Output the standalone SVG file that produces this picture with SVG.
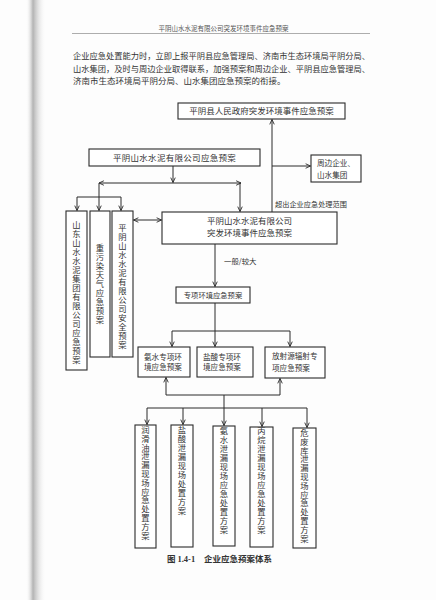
<svg xmlns="http://www.w3.org/2000/svg" width="436" height="600" viewBox="0 0 436 600">
<defs>
<linearGradient id="shadow" x1="0" y1="0" x2="1" y2="0">
<stop offset="0" stop-color="#ffffff" stop-opacity="0"/>
<stop offset="0.35" stop-color="#9a9a9a" stop-opacity="0.75"/>
<stop offset="0.6" stop-color="#c8c8c8" stop-opacity="0.55"/>
<stop offset="1" stop-color="#ffffff" stop-opacity="0"/>
</linearGradient>
<marker id="a" viewBox="0 0 8 8" refX="7.5" refY="4" markerWidth="6" markerHeight="6" markerUnits="userSpaceOnUse" orient="auto-start-reverse">
<path d="M1,1 L7.5,4 L1,7" fill="none" stroke="#2b2b2b" stroke-width="1.2"/>
</marker>
<style>
text{font-family:"Noto Sans CJK SC","Noto Sans",sans-serif;fill:#333}
.b{fill:#fff;stroke:#2b2b2b;stroke-width:1.1}
.c{fill:none;stroke:#2b2b2b;stroke-width:1}
.t{font-size:8.5px}
.m{text-anchor:middle}
.v{font-size:8.3px;text-anchor:middle}
.s{font-size:7.6px}
</style>
</defs>
<rect width="436" height="600" fill="#fdfdfd"/>
<rect x="26" y="0" width="20" height="600" fill="url(#shadow)"/>

<g id="header">
<text x="223.5" y="31" font-size="6.5" text-anchor="middle" style="fill:#555">平阴山水水泥有限公司突发环境事件应急预案</text>
<line x1="72" y1="33.5" x2="370" y2="33.5" stroke="#777" stroke-width="0.6"/>
</g>

<g id="paragraph">
<text x="73" y="59" class="t" textLength="297" lengthAdjust="spacingAndGlyphs">企业应急处置能力时，立即上报平阴县应急管理局、济南市生态环境局平阴分局、</text>
<text x="73" y="71.5" class="t" textLength="297" lengthAdjust="spacingAndGlyphs">山水集团，及时与周边企业取得联系，加强预案和周边企业、平阴县应急管理局、</text>
<text x="73" y="84" class="t">济南市生态环境局平阴分局、山水集团应急预案的衔接。</text>
</g>

<g id="connectors">
<path class="c" d="M272,212 V119.5" marker-end="url(#a)"/>
<path class="c" d="M272,166 H310.5" marker-end="url(#a)"/>
<path class="c" d="M173,166 V182.5" marker-end="url(#a)"/>
<path class="c" d="M99,183 H241" marker-start="url(#a)" marker-end="url(#a)"/>
<path class="c" d="M240,183 V211.5" marker-end="url(#a)"/>
<path class="c" d="M99,183 V210.5" marker-end="url(#a)"/>
<path class="c" d="M77,197 H121"/>
<path class="c" d="M77,197 V210.5" marker-end="url(#a)"/>
<path class="c" d="M121,197 V210.5" marker-end="url(#a)"/>
<path class="c" d="M133.5,220 H161.5" marker-start="url(#a)" marker-end="url(#a)"/>
<path class="c" d="M215,244 V286.5" marker-end="url(#a)"/>
<path class="c" d="M215,303 V346.5" marker-end="url(#a)"/>
<path class="c" d="M172,331 H290"/>
<path class="c" d="M172,331 V346.5" marker-end="url(#a)"/>
<path class="c" d="M290,331 V346.5" marker-end="url(#a)"/>
<path class="c" d="M166,395 V377.5" marker-end="url(#a)"/>
<path class="c" d="M280,395 V378.5" marker-end="url(#a)"/>
<path class="c" d="M166,395 H280"/>
<path class="c" d="M224,395 V408"/>
<path class="c" d="M147,408 H307"/>
<path class="c" d="M147,408 V424.5" marker-end="url(#a)"/>
<path class="c" d="M183,408 V424.5" marker-end="url(#a)"/>
<path class="c" d="M224,408 V425.5" marker-end="url(#a)"/>
<path class="c" d="M262,408 V426.5" marker-end="url(#a)"/>
<path class="c" d="M307,408 V427.5" marker-end="url(#a)"/>
</g>

<g id="gov">
<rect class="b" x="178" y="103" width="167" height="16"/>
<text x="261.5" y="114.3" class="t m">平阴县人民政府突发环境事件应急预案</text>
</g>

<g id="company">
<rect class="b" x="89" y="149" width="171" height="17"/>
<text x="174.5" y="160.8" class="t m" letter-spacing="0.3">平阴山水水泥有限公司应急预案</text>
</g>

<g id="neighbors">
<rect class="b" x="311" y="155" width="50" height="27"/>
<text x="317" y="166" class="s">周边企业、</text>
<text x="317" y="178" class="s">山水集团</text>
</g>

<g id="main">
<rect class="b" x="162" y="212" width="175" height="32"/>
<text x="249.5" y="224" class="t m">平阴山水水泥有限公司</text>
<text x="249.5" y="235.5" class="t m">突发环境事件应急预案</text>
</g>

<g id="labels">
<text x="275" y="207" font-size="7.2">超出企业应急处理范围</text>
<text x="224" y="264" font-size="7.4">一般/较大</text>
</g>

<g id="left1">
<rect class="b" x="66" y="211" width="21" height="159"/>
<text class="v"><tspan x="76.5" y="228">山</tspan><tspan x="76.5" y="237">东</tspan><tspan x="76.5" y="246">山</tspan><tspan x="76.5" y="255">水</tspan><tspan x="76.5" y="264">水</tspan><tspan x="76.5" y="273">泥</tspan><tspan x="76.5" y="282">集</tspan><tspan x="76.5" y="291">团</tspan><tspan x="76.5" y="300">有</tspan><tspan x="76.5" y="309">限</tspan><tspan x="76.5" y="318">公</tspan><tspan x="76.5" y="327">司</tspan><tspan x="76.5" y="336">应</tspan><tspan x="76.5" y="345">急</tspan><tspan x="76.5" y="354">预</tspan><tspan x="76.5" y="363">案</tspan></text>
</g>

<g id="left2">
<rect class="b" x="90" y="211" width="20" height="146"/>
<text class="v"><tspan x="100" y="251">重</tspan><tspan x="100" y="260">污</tspan><tspan x="100" y="269">染</tspan><tspan x="100" y="278">天</tspan><tspan x="100" y="287">气</tspan><tspan x="100" y="296">应</tspan><tspan x="100" y="305">急</tspan><tspan x="100" y="314">预</tspan><tspan x="100" y="323">案</tspan></text>
</g>

<g id="left3">
<rect class="b" x="112" y="211" width="21" height="146"/>
<text class="v"><tspan x="122.5" y="231">平</tspan><tspan x="122.5" y="240">阴</tspan><tspan x="122.5" y="249">山</tspan><tspan x="122.5" y="258">水</tspan><tspan x="122.5" y="267">水</tspan><tspan x="122.5" y="276">泥</tspan><tspan x="122.5" y="285">有</tspan><tspan x="122.5" y="294">限</tspan><tspan x="122.5" y="303">公</tspan><tspan x="122.5" y="312">司</tspan><tspan x="122.5" y="321">安</tspan><tspan x="122.5" y="330">全</tspan><tspan x="122.5" y="339">预</tspan><tspan x="122.5" y="348">案</tspan></text>
</g>

<g id="special">
<rect class="b" x="176" y="287" width="74" height="16"/>
<text x="213" y="298" class="m" font-size="7.3">专项环境应急预案</text>
</g>

<g id="ammonia">
<rect class="b" x="138" y="347" width="52" height="30"/>
<text x="144" y="359.8" class="s">氨水专项环</text>
<text x="144" y="370.3" class="s">境应急预案</text>
</g>

<g id="acid">
<rect class="b" x="197" y="347" width="56" height="30"/>
<text x="203" y="359.8" class="s">盐酸专项环</text>
<text x="203" y="370.3" class="s">境应急预案</text>
</g>

<g id="radiation">
<rect class="b" x="265" y="347" width="60" height="31"/>
<text x="272" y="359.3" class="s">放射源辐射专</text>
<text x="272" y="371" class="s">项应急预案</text>
</g>

<g id="b1">
<rect class="b" x="135" y="425" width="21" height="123"/>
<text class="v"><tspan x="145.5" y="433">润</tspan><tspan x="145.5" y="441.8">滑</tspan><tspan x="145.5" y="450.6">油</tspan><tspan x="145.5" y="459.4">泄</tspan><tspan x="145.5" y="468.2">漏</tspan><tspan x="145.5" y="477">现</tspan><tspan x="145.5" y="485.8">场</tspan><tspan x="145.5" y="494.6">应</tspan><tspan x="145.5" y="503.4">急</tspan><tspan x="145.5" y="512.2">处</tspan><tspan x="145.5" y="521">置</tspan><tspan x="145.5" y="529.8">方</tspan><tspan x="145.5" y="538.6">案</tspan></text>
</g>

<g id="b2">
<rect class="b" x="171" y="425" width="22" height="122"/>
<text class="v"><tspan x="182" y="433">盐</tspan><tspan x="182" y="442">酸</tspan><tspan x="182" y="451">泄</tspan><tspan x="182" y="460">漏</tspan><tspan x="182" y="469">现</tspan><tspan x="182" y="478">场</tspan><tspan x="182" y="487">处</tspan><tspan x="182" y="496">置</tspan><tspan x="182" y="505">方</tspan><tspan x="182" y="514">案</tspan></text>
</g>

<g id="b3">
<rect class="b" x="213" y="426" width="22" height="120"/>
<text class="v"><tspan x="224" y="433.5">氨</tspan><tspan x="224" y="442.5">水</tspan><tspan x="224" y="451.5">泄</tspan><tspan x="224" y="460.5">漏</tspan><tspan x="224" y="469.5">现</tspan><tspan x="224" y="478.5">场</tspan><tspan x="224" y="487.5">应</tspan><tspan x="224" y="496.5">急</tspan><tspan x="224" y="505.5">处</tspan><tspan x="224" y="514.5">置</tspan><tspan x="224" y="523.5">方</tspan><tspan x="224" y="532.5">案</tspan></text>
</g>

<g id="b4">
<rect class="b" x="250" y="427" width="23" height="120"/>
<text class="v"><tspan x="261.5" y="434">丙</tspan><tspan x="261.5" y="443">烷</tspan><tspan x="261.5" y="452">泄</tspan><tspan x="261.5" y="461">漏</tspan><tspan x="261.5" y="470">现</tspan><tspan x="261.5" y="479">场</tspan><tspan x="261.5" y="488">应</tspan><tspan x="261.5" y="497">急</tspan><tspan x="261.5" y="506">处</tspan><tspan x="261.5" y="515">置</tspan><tspan x="261.5" y="524">方</tspan><tspan x="261.5" y="533">案</tspan></text>
</g>

<g id="b5">
<rect class="b" x="293" y="428" width="23" height="120"/>
<text class="v"><tspan x="304.5" y="436">危</tspan><tspan x="304.5" y="444.8">废</tspan><tspan x="304.5" y="453.6">库</tspan><tspan x="304.5" y="462.4">泄</tspan><tspan x="304.5" y="471.2">漏</tspan><tspan x="304.5" y="480">现</tspan><tspan x="304.5" y="488.8">场</tspan><tspan x="304.5" y="497.6">应</tspan><tspan x="304.5" y="506.4">急</tspan><tspan x="304.5" y="515.2">处</tspan><tspan x="304.5" y="524">置</tspan><tspan x="304.5" y="532.8">方</tspan><tspan x="304.5" y="541.6">案</tspan></text>
</g>

<g id="caption">
<text x="167" y="562" font-size="8.5" font-weight="bold">图 <tspan font-family="Liberation Serif, serif">1.4-1</tspan><tspan x="204">企业应急预案体系</tspan></text>
</g>
</svg>
